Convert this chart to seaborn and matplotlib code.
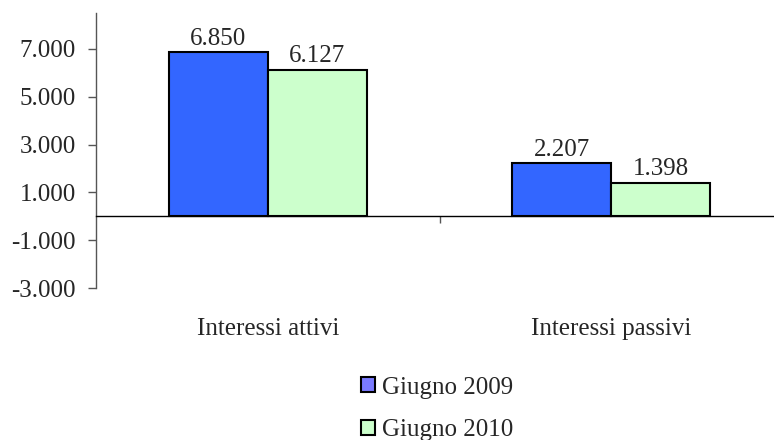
import matplotlib
matplotlib.use("Agg")
import matplotlib.pyplot as plt
from matplotlib.patches import Patch
from matplotlib.ticker import FuncFormatter, FixedLocator
import pandas as pd
import seaborn as sns

# Data
voci = ["Interessi attivi", "Interessi passivi"]
periodi = ["Giugno 2009", "Giugno 2010"]
giugno_2009 = [6850, 2207]
giugno_2010 = [6127, 1398]
y_ticks = [-3000, -1000, 1000, 3000, 5000, 7000]

df = pd.DataFrame({
    "voce": voci * 2,
    "periodo": [periodi[0]] * 2 + [periodi[1]] * 2,
    "valore": giugno_2009 + giugno_2010,
})

bar_colors = ["#3366FF", "#CCFFCC"]
legend_colors = ["#7B7BFF", "#CCFFCC"]

sns.set_style("white")
plt.rcParams["font.family"] = ["Liberation Serif", "DejaVu Serif"]
FS = 18


def it_fmt(v, pos=None):
    return f"{v:,.0f}".replace(",", ".")


fig = plt.figure(figsize=(7.74, 4.40), dpi=100)
ax = fig.add_axes([96 / 774, 152 / 440, 687 / 774, 275 / 440])

sns.barplot(data=df, x="voce", y="valore", hue="periodo", order=voci,
            hue_order=periodi, palette=bar_colors, saturation=1,
            width=0.575, edgecolor="black", linewidth=1.5,
            errorbar=None, legend=False, ax=ax)

for cont in ax.containers:
    ax.bar_label(cont, fmt=lambda v: it_fmt(v), padding=2, fontsize=FS)

ax.set_xlim(-0.5, 1.5)
ax.set_ylim(-3000, 8500)
ax.yaxis.set_major_locator(FixedLocator(y_ticks))
ax.yaxis.set_major_formatter(FuncFormatter(it_fmt))
ax.set_xlabel("")
ax.set_ylabel("")

# Spines: value axis on the left, category axis crossing at zero
for s in ["top", "right"]:
    ax.spines[s].set_visible(False)
ax.spines["left"].set_color("#555555")
ax.spines["left"].set_linewidth(1.0)
ax.spines["bottom"].set_position(("data", 0))
ax.spines["bottom"].set_color("black")
ax.spines["bottom"].set_linewidth(1.0)

ax.tick_params(axis="y", which="major", direction="out", length=6, width=1,
               color="#555555", pad=8.5, labelsize=FS, left=True)
ax.set_xticks([0, 1])
ax.set_xticklabels(voci)
ax.tick_params(axis="x", which="major", length=0, pad=73, labelsize=FS)
ax.xaxis.set_minor_locator(FixedLocator([0.5]))
ax.tick_params(axis="x", which="minor", direction="out", length=5, width=1,
               color="#555555", bottom=True)

handles = [Patch(facecolor=c, edgecolor="black", linewidth=1.5, label=l)
           for c, l in zip(legend_colors, periodi)]
fig.legend(handles=handles, loc="upper center",
           bbox_to_anchor=(437 / 774, 1 - 364 / 440), ncol=1, frameon=False,
           fontsize=FS, handlelength=0.56, handleheight=0.56,
           handletextpad=0.3, labelspacing=0.82, borderpad=0)

fig.savefig("out.png", dpi=100)
